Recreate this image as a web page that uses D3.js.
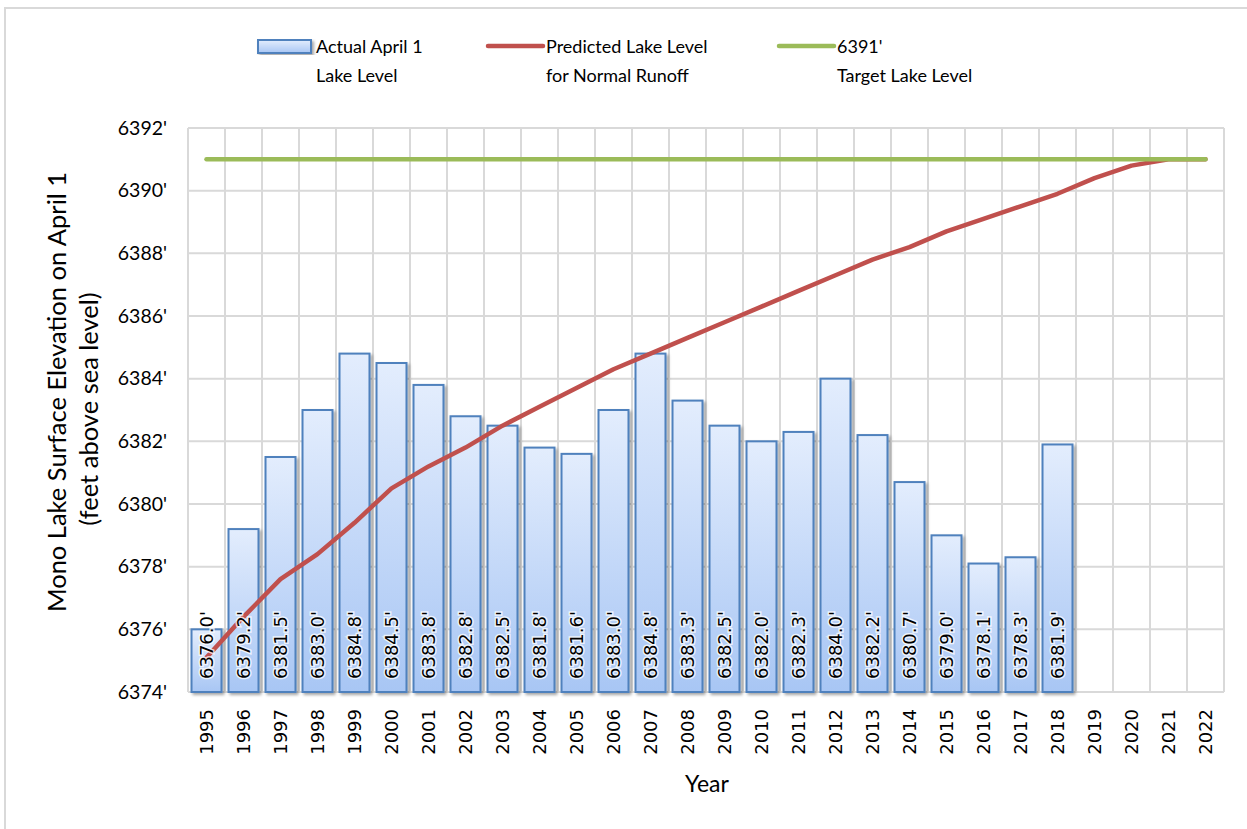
<!DOCTYPE html>
<html>
<head>
<meta charset="utf-8">
<script src="https://cdn.jsdelivr.net/npm/d3@7"></script>
<style>
  body { margin: 0; background: #fff; }
  svg { display: block; }
  .calibri { font-family: Lato, "Open Sans", sans-serif; }
  .verdana { font-family: "DejaVu Sans", Verdana, sans-serif; }
</style>
</head>
<body>
<div id="chart"></div>
<script>
const years = d3.range(1995, 2023).map(String);

const actualYears = ["1995", "1996", "1997", "1998", "1999", "2000", "2001", "2002",
    "2003", "2004", "2005", "2006", "2007", "2008", "2009", "2010", "2011", "2012",
    "2013", "2014", "2015", "2016", "2017", "2018"];
const actualLevels = [6376.0, 6379.2, 6381.5, 6383.0, 6384.8, 6384.5, 6383.8, 6382.8,
    6382.5, 6381.8, 6381.6, 6383.0, 6384.8, 6383.3, 6382.5, 6382.0, 6382.3, 6384.0,
    6382.2, 6380.7, 6379.0, 6378.1, 6378.3, 6381.9];

const predictedLevels = [6375.1, 6376.4, 6377.6, 6378.4, 6379.4, 6380.5, 6381.2, 6381.8,
    6382.5, 6383.1, 6383.7, 6384.3, 6384.8, 6385.3, 6385.8, 6386.3, 6386.8, 6387.3,
    6387.8, 6388.2, 6388.7, 6389.1, 6389.5, 6389.9, 6390.4, 6390.8, 6391.0, 6391.0];

const targetLevel = 6391;
const yTicks = [6374, 6376, 6378, 6380, 6382, 6384, 6386, 6388, 6390, 6392];

const width = 1247, height = 829;
const plot = { left: 188, right: 1224, top: 128, bottom: 692 };

const svg = d3.select("#chart")
    .append("svg")
        .attr("width", width)
        .attr("height", height);

const defs = svg.append("defs");

const grad = defs.append("linearGradient")
    .attr("id", "barFill")
    .attr("x1", 0).attr("y1", 0)
    .attr("x2", 0).attr("y2", 1);
grad.append("stop").attr("offset", "0%").attr("stop-color", "#e3edfd");
grad.append("stop").attr("offset", "100%").attr("stop-color", "#a8c6f4");

const shadow = defs.append("filter")
    .attr("id", "shadow")
    .attr("x", "-20%").attr("y", "-5%")
    .attr("width", "150%").attr("height", "115%");
shadow.append("feDropShadow")
    .attr("dx", 2).attr("dy", 2)
    .attr("stdDeviation", 1.5)
    .attr("flood-color", "#000")
    .attr("flood-opacity", 0.35);

// outer chart border
svg.append("rect")
    .attr("x", 5).attr("y", 8)
    .attr("width", width + 20).attr("height", height + 20)
    .attr("fill", "none")
    .attr("stroke", "#d9d9d9")
    .attr("stroke-width", 2);

const x = d3.scaleBand()
    .domain(years)
    .range([plot.left, plot.right])
    .paddingInner(0.19)
    .paddingOuter(0.095);

const y = d3.scaleLinear()
    .domain([6374, 6392])
    .range([plot.bottom, plot.top]);

const step = x.step();

// gridlines
const grid = svg.append("g").attr("stroke", "#d9d9d9").attr("stroke-width", 2);

grid.selectAll("line.h")
    .data(yTicks)
    .enter()
    .append("line")
        .attr("x1", plot.left).attr("x2", plot.right)
        .attr("y1", d => y(d)).attr("y2", d => y(d));

grid.selectAll("line.v")
    .data(d3.range(years.length + 1))
    .enter()
    .append("line")
        .attr("x1", i => plot.left + i * step)
        .attr("x2", i => plot.left + i * step)
        .attr("y1", plot.top).attr("y2", plot.bottom);

// y axis labels
const yAxis = svg.append("g")
    .attr("transform", `translate(${plot.left - 21},0)`)
    .call(d3.axisLeft(y)
        .tickValues(yTicks)
        .tickSize(0)
        .tickPadding(0)
        .tickFormat(d => `${d}'`));
yAxis.select(".domain").remove();
yAxis.selectAll("text")
    .classed("calibri", true)
    .attr("font-size", 19.5)
    .attr("fill", "#000");

// x axis labels
const xAxis = svg.append("g")
    .attr("transform", `translate(0,${plot.bottom})`)
    .call(d3.axisBottom(x).tickSize(0).tickPadding(0));
xAxis.select(".domain").remove();
xAxis.selectAll("text")
    .classed("verdana", true)
    .attr("font-size", 18)
    .attr("fill", "#000")
    .attr("text-anchor", "end")
    .attr("dy", null)
    .attr("y", 0)
    .attr("transform", "translate(6.5,17) rotate(-90)");

// bars
const bars = svg.append("g");
bars.selectAll("rect")
    .data(actualYears.map((yr, i) => ({ year: yr, value: actualLevels[i] })))
    .enter()
    .append("rect")
        .attr("x", d => x(d.year))
        .attr("y", d => y(d.value))
        .attr("width", x.bandwidth())
        .attr("height", d => y(6374) - y(d.value))
        .attr("fill", "url(#barFill)")
        .attr("stroke", "#4f81bd")
        .attr("stroke-width", 2)
        .attr("filter", "url(#shadow)");

// predicted line
const line = d3.line()
    .x((d, i) => x(years[i]) + x.bandwidth() / 2)
    .y(d => y(d));

svg.append("path")
    .datum(predictedLevels)
    .attr("d", line)
    .attr("fill", "none")
    .attr("stroke", "#c0504d")
    .attr("stroke-width", 4.5)
    .attr("stroke-linejoin", "round")
    .attr("stroke-linecap", "round");

// target line
svg.append("line")
    .attr("x1", x(years[0]) + x.bandwidth() / 2)
    .attr("x2", x(years[years.length - 1]) + x.bandwidth() / 2)
    .attr("y1", y(targetLevel)).attr("y2", y(targetLevel))
    .attr("stroke", "#9bbb59")
    .attr("stroke-width", 4.5)
    .attr("stroke-linecap", "round");

// bar labels
const labels = svg.append("g");
const labelData = actualYears.map((yr, i) => ({ year: yr, value: actualLevels[i] }));
labels.selectAll("text")
    .data(labelData)
    .enter()
    .append("text")
        .classed("verdana", true)
        .attr("font-size", 18)
        .attr("text-anchor", "start")
        .attr("transform", d => `translate(${x(d.year) + x.bandwidth() / 2 + 6.5},${plot.bottom - 13}) rotate(-90)`)
        .attr("fill", "#000")
        .attr("stroke", "#fff")
        .attr("stroke-width", 3)
        .attr("stroke-opacity", 0.75)
        .attr("paint-order", "stroke")
        .text(d => `${d.value.toFixed(1)}'`);

// axis titles
svg.append("text")
    .classed("calibri", true)
    .attr("font-size", 23)
    .attr("text-anchor", "middle")
    .attr("x", 707).attr("y", 792)
    .text("Year");

const yTitle = ["Mono Lake Surface Elevation on April 1", "(feet above sea level)"];
svg.selectAll("text.ytitle")
    .data(yTitle)
    .enter()
    .append("text")
        .classed("calibri", true)
        .attr("font-size", 25.5)
        .attr("text-anchor", "middle")
        .attr("transform", (d, i) => `translate(${i === 0 ? 66 : 98},${i === 0 ? 392 : 409}) rotate(-90)`)
        .text(d => d);

// legend
const legend = svg.append("g").classed("calibri", true).attr("font-size", 18);

const legendItems = [
    { kind: "bar", x: 258, lines: ["Actual April 1", "Lake Level"] },
    { kind: "line", color: "#c0504d", x: 488, lines: ["Predicted Lake Level", "for Normal Runoff"] },
    { kind: "line", color: "#9bbb59", x: 779, lines: ["6391'", "Target Lake Level"] }
];

legendItems.forEach(item => {
    const g = legend.append("g");
    if (item.kind === "bar") {
        g.append("rect")
            .attr("x", item.x).attr("y", 40)
            .attr("width", 53).attr("height", 13)
            .attr("fill", "url(#barFill)")
            .attr("stroke", "#4f81bd")
            .attr("stroke-width", 2)
            .attr("filter", "url(#shadow)");
    } else {
        g.append("line")
            .attr("x1", item.x).attr("x2", item.x + 55)
            .attr("y1", 46).attr("y2", 46)
            .attr("stroke", item.color)
            .attr("stroke-width", 4.5)
            .attr("stroke-linecap", "round");
    }
    g.selectAll("text")
        .data(item.lines)
        .enter()
        .append("text")
            .attr("x", item.x + 58)
            .attr("y", (d, i) => 53 + i * 29)
            .text(d => d);
});
</script>
</body>
</html>
